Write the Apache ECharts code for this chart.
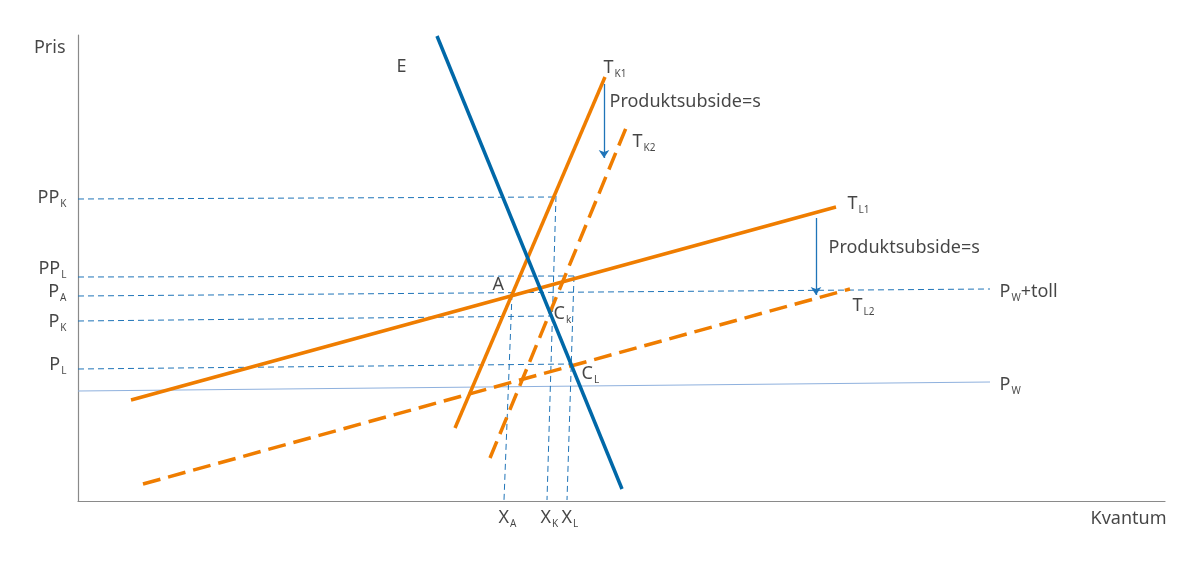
<!DOCTYPE html>
<html>
<head>
<meta charset="utf-8">
<script src="https://cdn.jsdelivr.net/npm/echarts@6/dist/echarts.min.js"></script>
<style>html,body{margin:0;padding:0;background:#fff;}#c{width:1200px;height:569px;}</style>
</head>
<body>
<div id="c"></div>
<script>
// ---- Data (diagram units) ----
const curveE      = [[359,465],[544,12]];
const curveTK1    = [[377,73],[527,424]];
const curveTK2    = [[412,43],[548,373]];
const curveTL1    = [[53,101],[758,294]];
const curveTL2    = [[65,17],[772,212]];
const worldPrice  = [[0,110],[912,119]];
const worldPriceToll = [[0,205],[912,212]];
const guidePPK = [[0,302],[478,304]];
const guideXK  = [[478,305],[469,1]];
const guidePPL = [[0,224],[496,225]];
const guideXL  = [[496,225],[489,1]];
const guideXA  = [[434,207],[426,1]];
const guidePK  = [[0,180],[474,185]];
const guidePL  = [[0,132],[494,137]];
const subsidyArrowK = [[526,417],[526,343]];
const subsidyArrowL = [[738,283],[738,206]];

const labelTexts = ['Pris','Kvantum','E','{m|T}{s|K1}','Produktsubside=s','{m|T}{s|K2}','{m|T}{s|L1}',
  'Produktsubside=s','{m|P}{s|W}{m|+toll}','{m|T}{s|L2}','{m|P}{s|W}','A','{m|C}{s|k}','{m|C}{s|L}',
  '{m|X}{s|A}','{m|X}{s|K}','{m|X}{s|L}','{m|PP}{s|K}','{m|PP}{s|L}','{m|P}{s|A}','{m|P}{s|K}','{m|P}{s|L}'];

// ---- Layout ----
const labelAnchors = [[-12,453,'l'],[1012,-18,'r'],[318,434,'r'],[525,432,'r'],[531,399,'r'],[554,358,'r'],[769,296,'r'],
  [750,253,'r'],[921,208,'r'],[774,194,'r'],[921,115,'r'],[414,216,'r'],[475,186,'r'],[503,126,'r'],
  [420,-18,'r'],[462,-18,'r'],[483,-18,'r'],[-11,302,'l'],[-11,231,'l'],[-11,208,'l'],[-11,178,'l'],[-11,135,'l']];

const FONT = 'Noto Sans';
const TXT = '#161616';
const ORANGE = '#ef7d00', BLUE = '#0068a8', GUIDE = '#1f74b8';
const rich = {
  m: {fontSize: 18, lineHeight: 20, verticalAlign: 'top', color: TXT, fontFamily: FONT},
  s: {fontSize: 10, lineHeight: 10, padding: [14,0,0,1], verticalAlign: 'bottom', color: TXT, fontFamily: FONT}
};

function seg(data, color, width, type, z) {
  return {type: 'line', data: data, showSymbol: false, symbol: 'none', silent: true, clip: false,
    lineStyle: {color: color, width: width, type: type || 'solid', cap: 'butt'}, z: z || 2, animation: false};
}

const series = [
  seg(worldPrice, '#8fb1de', 1, 'solid', 1),
  seg(worldPriceToll, GUIDE, 1, [6,4], 1),
  seg(guidePPK, GUIDE, 1, [6,4], 1),
  seg(guideXK, GUIDE, 1, [6,4], 1),
  seg(guidePPL, GUIDE, 1, [6,4], 1),
  seg(guideXL, GUIDE, 1, [6,4], 1),
  seg(guideXA, GUIDE, 1, [6,4], 1),
  seg(guidePK, GUIDE, 1, [6,4], 1),
  seg(guidePL, GUIDE, 1, [6,4], 1),
  seg(curveTL1, ORANGE, 3.5, 'solid', 3),
  seg(curveTL2, ORANGE, 3.5, [18,8], 3),
  seg(curveTK1, ORANGE, 3.5, 'solid', 3),
  seg(curveTK2, ORANGE, 3.5, [18,8], 3),
  seg(curveE, BLUE, 3.5, 'solid', 4),
  {type: 'lines', coordinateSystem: 'cartesian2d', silent: true, animation: false,
   symbol: ['none','arrow'], symbolSize: 8,
   lineStyle: {color: GUIDE, width: 1.3, opacity: 1},
   data: [{coords: subsidyArrowK}, {coords: subsidyArrowL}]},
  {type: 'scatter', clip: false, silent: true, animation: false, symbolSize: 1,
   itemStyle: {color: 'rgba(0,0,0,0)'},
   data: labelAnchors.map((p, i) => ({
     value: [p[0], p[1]],
     label: {show: true, position: p[2] === 'l' ? 'left' : 'right', distance: 0,
       formatter: labelTexts[i], fontSize: 18, fontFamily: FONT, color: TXT, rich: rich}
   }))}
];

const chart = echarts.init(document.getElementById('c'));
chart.setOption({
  animation: false,
  backgroundColor: '#fff',
  grid: {left: 78, right: 35, top: 35, bottom: 68},
  xAxis: {type: 'value', min: 0, max: 1087, axisLine: {show: true, lineStyle: {color: '#8a8a8a', width: 1.2}},
    axisTick: {show: false}, axisLabel: {show: false}, splitLine: {show: false}},
  yAxis: {type: 'value', min: 0, max: 466, axisLine: {show: true, lineStyle: {color: '#8a8a8a', width: 1.2}},
    axisTick: {show: false}, axisLabel: {show: false}, splitLine: {show: false}},
  series: series
});
</script>
</body>
</html>
